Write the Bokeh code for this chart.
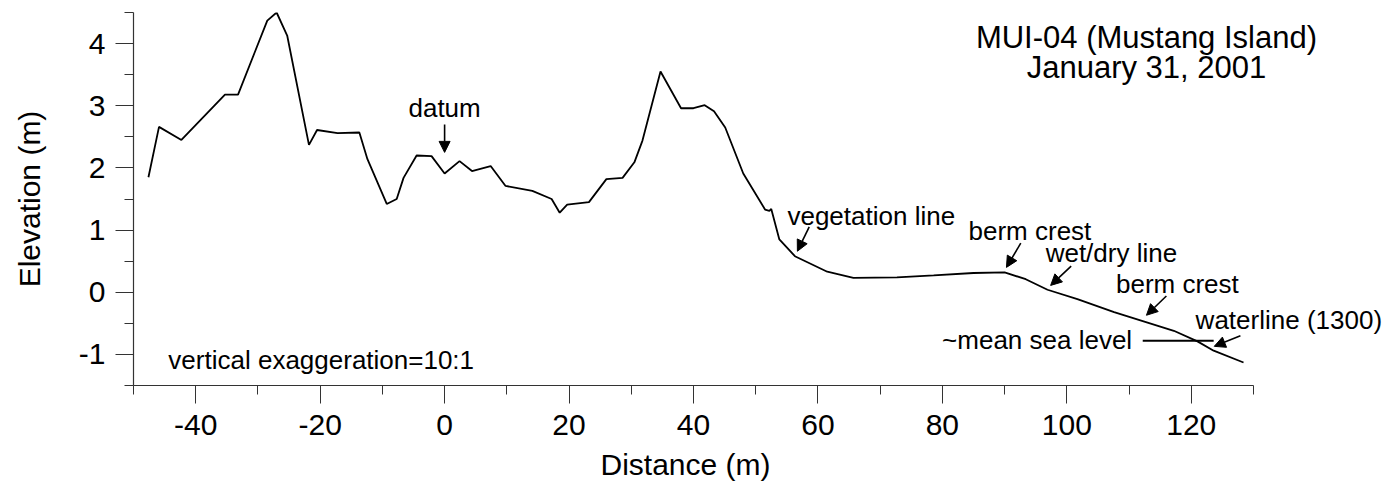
from bokeh.plotting import figure
from bokeh.models import Label, Arrow, NormalHead, FixedTicker, Range1d, CustomJSTickFormatter, Title
from bokeh.embed import file_html
from bokeh.resources import INLINE

# Beach profile MUI-04, January 31, 2001
distance_m = [-47.6, -45.9, -42.3, -35.3, -33.2, -28.5, -27.0, -25.3, -21.8, -20.5,
              -17.2, -13.7, -12.4, -9.3, -7.7, -6.6, -4.5, -2.1, 0.0, 2.4,
              4.4, 7.4, 9.8, 14.1, 17.2, 18.5, 19.7, 23.2, 26.0, 28.6,
              30.5, 31.8, 34.7, 38.0, 40.0, 41.8, 43.3, 45.1, 48.0, 51.5,
              52.2, 52.5, 53.8, 56.3, 61.5, 65.7, 72.7, 78.6, 85.0, 90.0,
              93.4, 96.9, 101.7, 107.6, 117.2, 121.0, 123.6, 128.4]
elevation_m = [1.85, 2.66, 2.45, 3.18, 3.18, 4.37, 4.50, 4.13, 2.37, 2.61,
               2.56, 2.57, 2.14, 1.42, 1.50, 1.84, 2.20, 2.19, 1.91, 2.11,
               1.95, 2.03, 1.71, 1.63, 1.50, 1.28, 1.41, 1.45, 1.82, 1.84,
               2.09, 2.44, 3.55, 2.96, 2.96, 3.01, 2.91, 2.65, 1.91, 1.33,
               1.31, 1.34, 0.85, 0.58, 0.33, 0.23, 0.24, 0.27, 0.31, 0.32,
               0.21, 0.04, -0.11, -0.32, -0.62, -0.79, -0.94, -1.13]

x_major_ticks = [-40, -20, 0, 20, 40, 60, 80, 100, 120]
x_minor_ticks = [-50, -30, -10, 10, 30, 50, 70, 90, 110, 130]
y_major_ticks = [-1, 0, 1, 2, 3, 4]
y_minor_ticks = [-1.5, -0.5, 0.5, 1.5, 2.5, 3.5, 4.5]

mean_sea_level = -0.78
msl_x = [112.2, 123.6]

title_lines = ["MUI-04 (Mustang Island)", "January 31, 2001"]
x_label = "Distance (m)"
y_label = "Elevation (m)"

# annotation text, text anchor (x, y), alignment, arrow tail (x, y), arrow head (x, y)
annotations = [
    ("datum", (0.0, 2.97), "center", (0.0, 2.70), (0.0, 2.25)),
    ("vegetation line", (55.1, 1.23), "left", (58.6, 1.05), (56.7, 0.66)),
    ("berm crest", (84.2, 0.98), "left", (92.6, 0.79), (90.3, 0.40)),
    ("wet/dry line", (96.6, 0.63), "left", (100.7, 0.42), (97.4, 0.11)),
    ("berm crest", (107.9, 0.13), "left", (116.0, -0.06), (112.8, -0.37)),
    ("waterline (1300)", (120.7, -0.44), "left", (127.9, -0.70), (123.7, -0.87)),
]

FONT = "Liberation Sans"
AX_COL = "#333333"

# frame: left edge at -50 (133 px), 6.222 px per metre; frame runs to the right edge of the page
p = figure(width=1388, height=497, output_backend="svg", toolbar_location=None,
           x_range=Range1d(-50, 151.7), y_range=Range1d(-1.5, 4.5),
           min_border_left=133, min_border_right=0, min_border_top=12, min_border_bottom=112)
p.outline_line_color = None
p.grid.visible = False
p.background_fill_color = "white"
p.border_fill_color = "white"

p.line(distance_m, elevation_m, line_color="black", line_width=1.8)
p.line(msl_x, [mean_sea_level, mean_sea_level], line_color="black", line_width=1.8)

for ax, major, minor in ((p.xaxis[0], x_major_ticks, x_minor_ticks),
                         (p.yaxis[0], y_major_ticks, y_minor_ticks)):
    ax.ticker = FixedTicker(ticks=major, minor_ticks=minor)
    ax.formatter = CustomJSTickFormatter(code="return tick.toString();")
    ax.axis_label_text_font = FONT
    ax.axis_label_text_font_size = "30px"
    ax.axis_label_text_font_style = "normal"
    ax.axis_label_text_color = "black"
    ax.major_label_text_font = FONT
    ax.major_label_text_font_size = "30px"
    ax.major_label_text_color = "black"
    ax.axis_line_color = AX_COL
    ax.axis_line_width = 1.2
    ax.major_tick_line_color = AX_COL
    ax.minor_tick_line_color = AX_COL
    ax.major_tick_in = 0
    ax.major_tick_out = 18
    ax.minor_tick_in = 0
    ax.minor_tick_out = 9

p.xaxis[0].bounds = (-50, 130)
p.xaxis[0].major_label_standoff = 11
p.yaxis[0].axis_label = y_label
p.yaxis[0].major_label_standoff = 10
p.yaxis[0].axis_label_standoff = 30

# x-axis label centred under the -50..130 axis (not under the whole frame)
p.add_layout(Title(text=x_label, align="left", offset=467, standoff=16, text_font=FONT,
                   text_font_size="30px", text_font_style="normal", text_color="black"), "below")

for t, ty in zip(title_lines, [4.10, 3.62]):
    p.add_layout(Label(x=112.8, y=ty, text=t, text_font=FONT, text_font_size="31px",
                       text_align="center", text_baseline="middle", text_color="black"))

for text, (tx, ty), align, (ax0, ay0), (ax1, ay1) in annotations:
    p.add_layout(Label(x=tx, y=ty, text=text, text_font=FONT, text_font_size="26px",
                       text_align=align, text_baseline="middle", text_color="black"))
    p.add_layout(Arrow(x_start=ax0, y_start=ay0, x_end=ax1, y_end=ay1, line_width=1.6,
                       line_color="black",
                       end=NormalHead(size=11, fill_color="black", line_color="black", line_width=1)))

p.add_layout(Label(x=110.5, y=-0.77, text="~mean sea level", text_font=FONT, text_font_size="26px",
                   text_align="right", text_baseline="middle", text_color="black"))
p.add_layout(Label(x=-44.4, y=-1.09, text="vertical exaggeration=10:1", text_font=FONT,
                   text_font_size="26px", text_align="left", text_baseline="middle", text_color="black"))

open("out.html", "w").write(file_html(p, INLINE))
